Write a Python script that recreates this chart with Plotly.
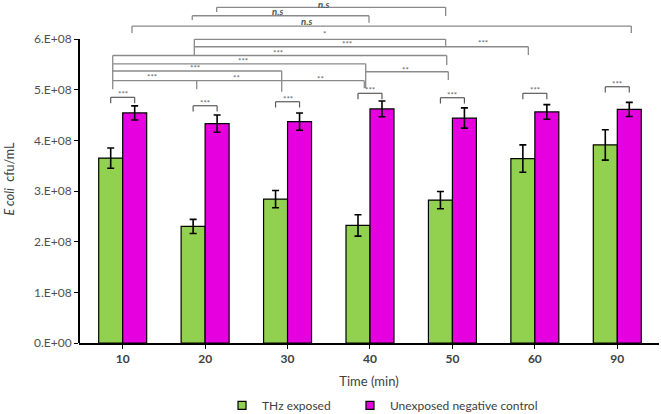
import plotly.graph_objects as go

# ---------------- data ----------------
times = ["10", "20", "30", "40", "50", "60", "90"]
thz_exposed = [3.65e8, 2.30e8, 2.84e8, 2.32e8, 2.82e8, 3.64e8, 3.91e8]
thz_err = [0.20e8, 0.14e8, 0.17e8, 0.21e8, 0.17e8, 0.27e8, 0.30e8]
control = [4.54e8, 4.33e8, 4.37e8, 4.62e8, 4.44e8, 4.56e8, 4.61e8]
control_err = [0.14e8, 0.17e8, 0.17e8, 0.155e8, 0.20e8, 0.145e8, 0.14e8]

y_tickvals = [0, 1e8, 2e8, 3e8, 4e8, 5e8, 6e8]
y_ticktext = ["0.E+00", "1.E+08", "2.E+08", "3.E+08", "4.E+08", "5.E+08", "6.E+08"]

# significance labels between exposed and control at each time point
pair_labels = ["***"] * 7
pair_levels = [4.849e8, 4.683e8, 4.762e8, 4.928e8, 4.841e8, 4.928e8, 5.058e8]

# long comparison brackets: (x0, x1, level, left drop to, right drop to) in category-index units
long_brackets = [
    (1.140, 3.918, 6.625e8, 6.532e8, 6.454e8),
    (0.844, 2.988, 6.459e8, 6.375e8, 6.321e8),
    (0.113, 6.170, 6.256e8, 6.118e8, 6.118e8),
    (0.869, 3.918, 5.994e8, 5.684e8, 5.867e8),
    (0.869, 4.921, 5.847e8, None, 5.684e8),
    (-0.121, 3.931, 5.674e8, 5.007e8, 5.486e8),
    (-0.121, 2.948, 5.510e8, None, 5.027e8),
    (-0.121, 1.929, 5.368e8, None, 4.960e8),
    (2.948, 3.950, 5.354e8, None, 5.190e8),
    (-0.121, 2.931, 5.177e8, None, 5.027e8),
]
extra_drops = [(0.898, 5.177e8, 5.007e8)]

long_labels = [
    ("n.s", 2.442, 6.685e8),
    ("n.s", 1.872, 6.545e8),
    ("n.s", 2.226, 6.345e8),
    ("*", 2.446, 6.09e8),
    ("***", 2.721, 5.895e8),
    ("***", 4.371, 5.926e8),
    ("***", 1.880, 5.729e8),
    ("***", 1.463, 5.565e8),
    ("***", 0.877, 5.433e8),
    ("**", 3.425, 5.38e8),
    ("***", 0.352, 5.255e8),
    ("**", 1.383, 5.224e8),
    ("**", 2.394, 5.204e8),
]

GREEN = "#92D050"
MAGENTA = "#E600E0"
BARGAP = 0.418
FONT = "Lato"

fig = go.Figure()
fig.add_trace(go.Bar(
    x=times, y=thz_exposed, name="THz exposed", showlegend=False,
    marker=dict(color=GREEN, line=dict(color="black", width=1.2)),
    error_y=dict(type="data", array=thz_err, color="black", thickness=1.6, width=3.5),
))
fig.add_trace(go.Bar(
    x=times, y=control, name="Unexposed negative control", showlegend=False,
    marker=dict(color=MAGENTA, line=dict(color="black", width=1.2)),
    error_y=dict(type="data", array=control_err, color="black", thickness=1.6, width=3.5),
))
# legend entries with small square swatches (one legend box each)
for name, col, lg in [("THz exposed", GREEN, "legend"), ("Unexposed negative control", MAGENTA, "legend2")]:
    fig.add_trace(go.Scatter(
        x=[None], y=[None], mode="markers", name=name, legend=lg,
        marker=dict(symbol="square", size=8, color=col, line=dict(color="black", width=1.2)),
    ))

shapes = []
def seg(x0, y0, x1, y1, color, width):
    shapes.append(dict(type="line", xref="x", yref="y", x0=x0, y0=y0, x1=x1, y1=y1,
                       line=dict(color=color, width=width)))

LONG_COL = "#8a8a8a"
for x0, x1, lev, d0, d1 in long_brackets:
    seg(x0, lev, x1, lev, LONG_COL, 1.3)
    if d0 is not None:
        seg(x0, lev, x0, d0, LONG_COL, 1.3)
    if d1 is not None:
        seg(x1, lev, x1, d1, LONG_COL, 1.3)
for x, y0, y1 in extra_drops:
    seg(x, y0, x, y1, LONG_COL, 1.3)

off = (1 - BARGAP) / 4
PAIR_COL = "#5a5a5a"
annotations = []
for i, (lab, lev) in enumerate(zip(pair_labels, pair_levels)):
    xa, xb = i - off, i + off
    seg(xa, lev, xb, lev, PAIR_COL, 1.2)
    seg(xa, lev, xa, lev - 0.115e8, PAIR_COL, 1.2)
    seg(xb, lev, xb, lev - 0.115e8, PAIR_COL, 1.2)
    annotations.append(dict(x=i, y=lev + 0.06e8, xref="x", yref="y", text=lab, showarrow=False,
                            font=dict(family=FONT, size=8, color="#666666"), yanchor="middle"))

for lab, x, y in long_labels:
    if lab == "n.s":
        txt = "<b><i>n.s</i></b>"
        f = dict(family=FONT, size=9.5, color="#505050")
    else:
        txt = lab
        f = dict(family=FONT, size=8, color="#666666")
    annotations.append(dict(x=x, y=y, xref="x", yref="y", text=txt, showarrow=False,
                            font=f, yanchor="middle", borderpad=0))

# y axis line only up to the top tick
shapes.append(dict(type="line", xref="paper", yref="y", x0=0, x1=0, y0=0, y1=y_tickvals[-1],
                   line=dict(color="black", width=2)))

annotations.append(dict(xref="paper", yref="paper", x=-0.12, y=0.482, textangle=-90,
                        xanchor="center", yanchor="middle",
                        text="<i>E coli</i>  cfu/mL", showarrow=False,
                        font=dict(family=FONT, size=12.5, color="#404040")))

legend_common = dict(orientation="h", xanchor="left", y=-0.14, yanchor="top",
                     font=dict(family=FONT, size=12, color="#404040"), itemwidth=30,
                     bgcolor="rgba(0,0,0,0)")

fig.update_layout(
    width=661, height=414,
    margin=dict(l=79, r=2, t=1, b=71, autoexpand=False),
    plot_bgcolor="white", paper_bgcolor="white",
    barmode="group", bargap=BARGAP, bargroupgap=0,
    font=dict(family=FONT, size=12, color="#404040"),
    shapes=shapes, annotations=annotations,
    legend=dict(x=0.2466, **legend_common),
    legend2=dict(x=0.4672, **legend_common),
    xaxis=dict(
        type="category", range=[-0.53, 6.506], showline=True, linecolor="black", linewidth=2,
        ticks="outside", ticklen=4, tickcolor="black", showgrid=False,
        tickfont=dict(family=FONT, size=12, color="#404040", weight="bold"),
        title=dict(text="Time (min)", font=dict(family=FONT, size=13, color="#404040"), standoff=11),
    ),
    yaxis=dict(
        range=[0, 6.75e8], showline=False, showgrid=False, zeroline=False,
        tickvals=y_tickvals, ticktext=y_ticktext, ticks="outside", ticklen=4, tickcolor="black",
        tickfont=dict(family=FONT, size=12, color="#505050"),
    ),
)

fig.write_html("out.html", config={"displayModeBar": False},
               post_script="document.body.style.margin='0';document.body.style.overflow='hidden';")
